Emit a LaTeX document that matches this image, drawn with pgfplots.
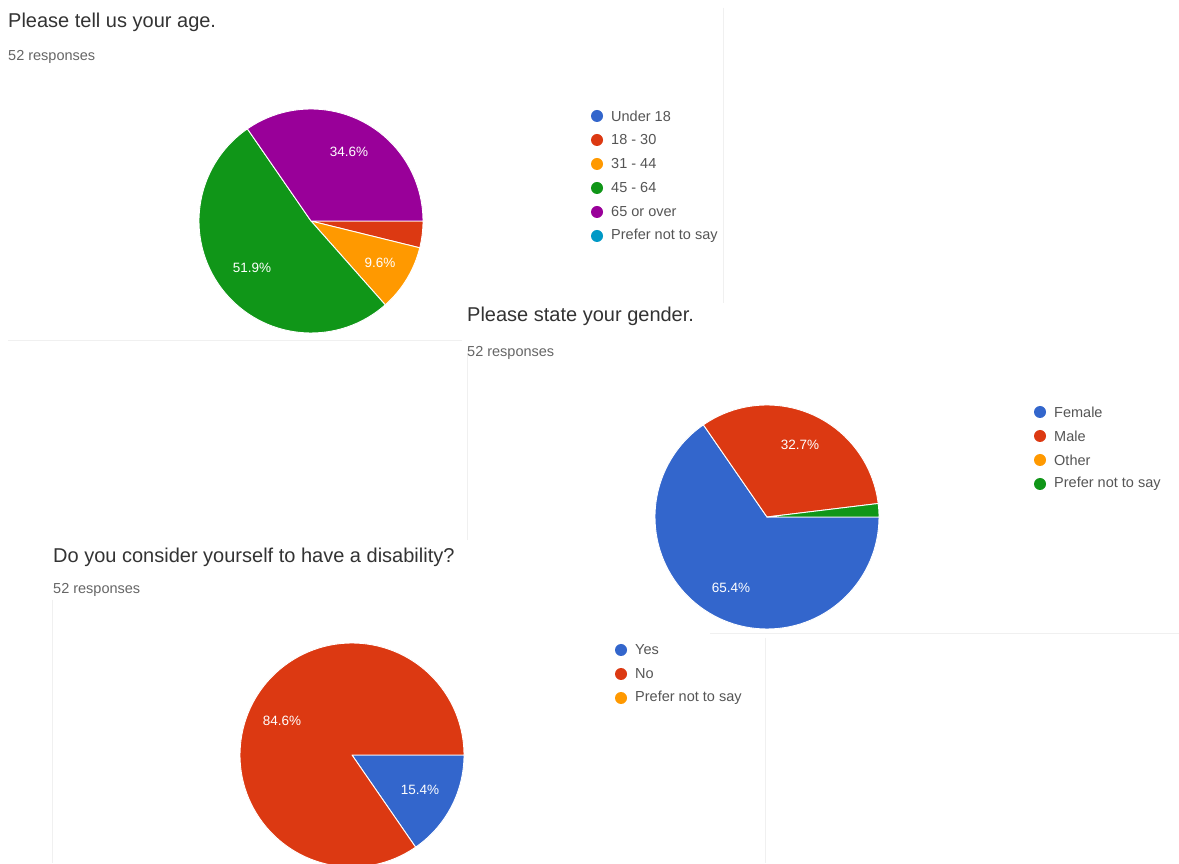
\documentclass[border=0pt]{standalone}
\usepackage{pgfplots}
\pgfplotsset{compat=1.18}
\usepackage{fontspec}
\setmainfont{Liberation Sans}
\definecolor{gblue}{HTML}{3366CC}
\definecolor{gred}{HTML}{DC3912}
\definecolor{gorange}{HTML}{FF9900}
\definecolor{ggreen}{HTML}{109618}
\definecolor{gpurple}{HTML}{990099}
\definecolor{gcyan}{HTML}{0099C6}
\definecolor{titlecol}{HTML}{333333}
\definecolor{respcol}{HTML}{666666}
\definecolor{legcol}{HTML}{555555}
\definecolor{bordercol}{HTML}{F0F0F0}
% slice: cx, cy, start %, end %, colour  (clockwise from 3 o'clock)
\newcommand{\slice}[5]{%
  \fill[#5,draw=white,line width=0.9pt,line join=round]
    (axis cs:#1,#2) -- ++({-3.6*(#3)}:112pt)
    arc[start angle={-3.6*(#3)}, end angle={-3.6*(#4)}, radius=112pt] -- cycle;}
\newcommand{\legitem}[4]{% x, y, colour, text
  \fill[#3] (axis cs:#1,#2) circle[radius=6pt];
  \node[anchor=west,font=\fontsize{14.5}{16}\selectfont,text=legcol,inner sep=0pt]
    at (axis cs:#1+14,#2) {#4};}
\newcommand{\pct}[3]{%
  \node[font=\fontsize{13.5}{15}\selectfont,text=white,inner sep=0pt] at (axis cs:#1,#2) {#3};}
\begin{document}
\begin{tikzpicture}
\begin{axis}[x=1pt,y=1pt,xmin=0,xmax=1179,ymin=0,ymax=863,
  hide axis,scale only axis,clip=true]
\addplot[draw=none] coordinates {(0,0) (1179,863)};
\fill[white] (axis cs:0,0) rectangle (axis cs:1179,863);
% panel borders
\draw[bordercol,line width=0.8pt] (axis cs:723,855) -- (axis cs:723,560);
\draw[bordercol,line width=0.8pt] (axis cs:8,523) -- (axis cs:462,523);
\draw[bordercol,line width=0.8pt] (axis cs:467,510) -- (axis cs:467,323);
\draw[bordercol,line width=0.8pt] (axis cs:710,230) -- (axis cs:1179,230);
\draw[bordercol,line width=0.8pt] (axis cs:765,225) -- (axis cs:765,0);
\draw[bordercol,line width=0.8pt] (axis cs:52,263) -- (axis cs:52,0);
% ---------- Panel 1: age ----------
\node[anchor=base west,font=\fontsize{20}{24}\selectfont,text=titlecol,inner sep=0pt] at (axis cs:8,835) {Please tell us your age.};
\node[anchor=base west,font=\fontsize{14.5}{17}\selectfont,text=respcol,inner sep=0pt] at (axis cs:8,802) {52 responses};
% Under 18: 0, 18-30: 2, 31-44: 5, 45-64: 27, 65 or over: 18, Prefer not: 0  (n = 52)
\slice{311}{642}{0}{3.846}{gred}
\slice{311}{642}{3.846}{13.462}{gorange}
\slice{311}{642}{13.462}{65.385}{ggreen}
\slice{311}{642}{65.385}{100}{gpurple}
\pct{349}{711}{34.6\%}
\pct{380}{600}{9.6\%}
\pct{252}{595}{51.9\%}
\legitem{597}{747}{gblue}{Under 18}
\legitem{597}{723}{gred}{18 - 30}
\legitem{597}{699}{gorange}{31 - 44}
\legitem{597}{675}{ggreen}{45 - 64}
\legitem{597}{651}{gpurple}{65 or over}
\legitem{597}{627}{gcyan}{Prefer not to say}
% ---------- Panel 3: disability ----------
\node[anchor=base west,font=\fontsize{20}{24}\selectfont,text=titlecol,inner sep=0pt] at (axis cs:53,300) {Do you consider yourself to have a disability?};
\node[anchor=base west,font=\fontsize{14.5}{17}\selectfont,text=respcol,inner sep=0pt] at (axis cs:53,269) {52 responses};
% Yes: 8, No: 44, Prefer not: 0
\slice{352}{108}{0}{15.385}{gblue}
\slice{352}{108}{15.385}{100}{gred}
\pct{282}{142}{84.6\%}
\pct{420}{73}{15.4\%}
\legitem{621}{213}{gblue}{Yes}
\legitem{621}{189}{gred}{No}
\legitem{621}{165}{gorange}{Prefer not to say}
% ---------- Panel 2: gender ----------
\node[anchor=base west,font=\fontsize{20}{24}\selectfont,text=titlecol,inner sep=0pt] at (axis cs:467,541) {Please state your gender.};
\node[anchor=base west,font=\fontsize{14.5}{17}\selectfont,text=respcol,inner sep=0pt] at (axis cs:467,506) {52 responses};
% Female: 34, Male: 17, Other: 0, Prefer not: 1
\slice{767}{346}{0}{65.385}{gblue}
\slice{767}{346}{65.385}{98.077}{gred}
\slice{767}{346}{98.077}{100}{ggreen}
\pct{800}{418}{32.7\%}
\pct{731}{275}{65.4\%}
\legitem{1040}{451}{gblue}{Female}
\legitem{1040}{427}{gred}{Male}
\legitem{1040}{403}{gorange}{Other}
\legitem{1040}{379}{ggreen}{Prefer not to say}
\end{axis}
\end{tikzpicture}
\end{document}
